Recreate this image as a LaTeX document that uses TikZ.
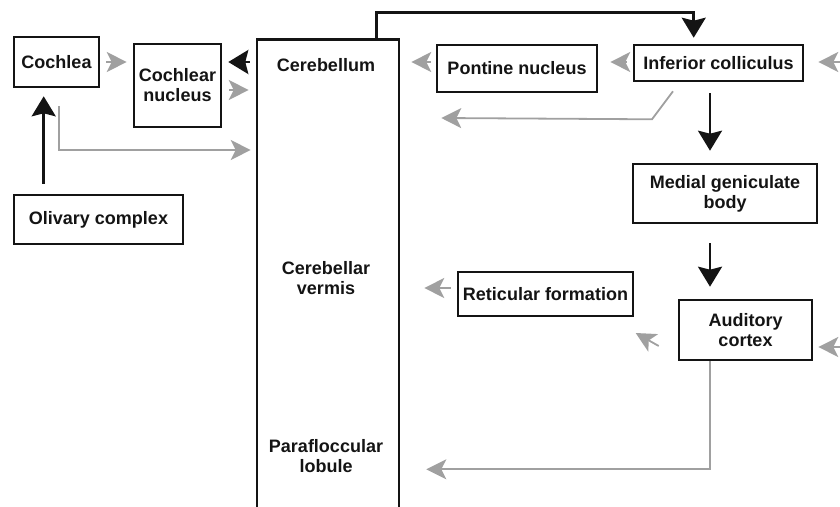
\documentclass[tikz,border=0pt]{standalone}
\usepackage{fontspec}
\setmainfont{Liberation Sans}
\usetikzlibrary{arrows.meta, calc}
\definecolor{darkline}{RGB}{20,20,20}
\definecolor{paleline}{RGB}{160,160,160}

\begin{document}
\begin{tikzpicture}[
    x=1pt, y=-1pt,
    every node/.style={font=\fontsize{18}{20}\selectfont\bfseries, align=center, text=darkline},
    box/.style={rectangle, draw=darkline, line width=2.6pt, inner sep=2pt},
    feed/.style={-{Stealth[length=20pt, width=24pt, inset=3pt]}, darkline, line width=2.6pt},
    side/.style={-{Stealth[length=20pt, width=20pt, inset=5pt]}, paleline, line width=1.8pt}
]
\useasboundingbox (0,0) rectangle (840,506);
\clip (0,0) rectangle (840,506);

% left column
\node[box, minimum width=85pt, minimum height=50pt] (cochlea) at (56.5,62) {Cochlea};
\node[box, minimum width=87pt, minimum height=83pt] (cnucleus) at (177.5,85.5) {Cochlear\\nucleus};
\node[box, minimum width=169pt, minimum height=49pt] (olivary) at (98.5,219.5) {Olivary complex};

% cerebellum column, open at the bottom
\node[box, minimum width=142pt, minimum height=500pt, anchor=north] (cerebellum) at (328,38) {};
\node (cbltext) at (326,65) {Cerebellum};
\node (vermis) at (326,278) {Cerebellar\\vermis};
\node (lobule) at (326,456) {Parafloccular\\lobule};

% right side
\node[box, minimum width=160pt, minimum height=47pt] (pontine) at (517,68.5) {Pontine nucleus};
\node[box, minimum width=169pt, minimum height=36pt] (colliculus) at (718.5,63) {Inferior colliculus};
\node[box, minimum width=184pt, minimum height=59pt] (geniculate) at (725,193.5) {Medial geniculate\\body};
\node[box, minimum width=175pt, minimum height=44pt] (reticular) at (545.5,294) {Reticular formation};
\node[box, minimum width=133pt, minimum height=60pt] (cortex) at (745.5,330) {Auditory\\cortex};

\coordinate (rightin) at (842,62);
\coordinate (rightlow) at (842,347);

% black pathway
\draw[feed] ($(olivary.north west)+(31,-10)$) -- ($(cochlea.south west)+(31,8)$);
\draw[feed] ($(cochlea.east -| cerebellum.west)+(-6,0)$) -- ($(cochlea.east -| cnucleus.east)+(6,0)$);
\draw[feed] ($(cerebellum.north west)+(121,0)$) |- ($(colliculus.north west)+(61,-31)$) -- ($(colliculus.north west)+(61,-6)$);
\draw[feed] ($(colliculus.south)+(-8.5,11)$) -- ($(geniculate.north)+(-15,-12)$);
\draw[feed] ($(geniculate.south)+(-15,19)$) -- ($(cortex.north)+(-35.5,-12)$);

% grey pathway
\draw[side] ($(cochlea.east)+(6,0)$) -- ($(cochlea.east -| cnucleus.west)+(-6,0)$);
\draw[side] ($(cnucleus.east)+(7,4.5)$) -- ($(cnucleus.east -| cerebellum.west)+(-7,4.5)$);
\draw[side] ($(cochlea.south west)+(46,18)$) |- ($(cerebellum.north west)+(-5,112)$);
\draw[side] ($(pontine.west)+(-5,-6.5)$) -- ($(pontine.west -| cerebellum.east)+(11,-6.5)$);
\draw[side] ($(colliculus.west)+(-6,-1)$) -- ($(pontine.east)+(12,-6.5)$);
\draw[side] (rightin) -- ($(colliculus.east)+(14,-1)$);
\draw[side] ($(colliculus.south)+(-45.5,9)$) -- ($(colliculus.south)+(-66.5,37)$) -- ($(cerebellum.north east)+(41,80)$);
\draw[side] ($(reticular.west)+(-6,-6)$) -- ($(reticular.west -| cerebellum.east)+(24,-6)$);
\draw[side] ($(cortex.west)+(-19,16)$) -- ($(cortex.west)+(-42,3)$);
\draw[side] (rightlow) -- ($(cortex.east)+(5,17)$);
\draw[side] ($(cortex.south)+(-35.5,0)$) |- ($(cerebellum.east)+(26,180)$);
\end{tikzpicture}
\end{document}
